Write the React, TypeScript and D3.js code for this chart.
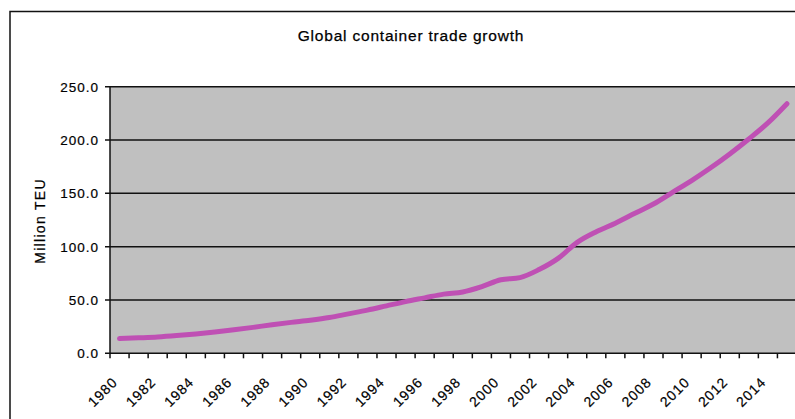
import React from "react";
import * as d3 from "d3";

const years: number[] = [
  1980, 1981, 1982, 1983, 1984, 1985, 1986, 1987, 1988, 1989,
  1990, 1991, 1992, 1993, 1994, 1995, 1996, 1997, 1998, 1999,
  2000, 2001, 2002, 2003, 2004, 2005, 2006, 2007, 2008, 2009,
  2010, 2011, 2012, 2013, 2014, 2015,
];
const teu: number[] = [
  13.8, 14.5, 15.3, 16.6, 18.2, 20, 22, 24.3, 26.8, 29,
  31, 33.5, 37, 40.5, 44.5, 48.5, 52, 55.5, 57.5, 62.5,
  69, 71, 78.5, 89, 104, 114, 122, 131, 140, 151,
  162, 174, 187, 201, 216, 234,
];
const yTicks: number[] = [0, 50, 100, 150, 200, 250];
const xLabelYears: number[] = years.filter((y) => y % 2 === 0 && y <= 2014);
const title = "Global container trade growth";
const yTitle = "Million TEU";

const W = 795;
const H = 419;
const left = 110;
const right = 796.5;
const top = 86.7;
const bottom = 353.3;
const font = "'Liberation Sans', Arial, sans-serif";

export default function App() {
  const x = d3.scaleBand<number>().domain(years).range([left, right]).padding(0);
  const y = d3.scaleLinear().domain([0, 250]).range([bottom, top]);
  const line = d3
    .line<number>()
    .x((_, i) => (x(years[i]) as number) + x.bandwidth() / 2)
    .y((d) => y(d))
    .curve(d3.curveMonotoneX);
  const boundaries = d3.range(years.length + 1).map((i) => left + i * x.step());

  return (
    <svg
      width={W}
      height={H}
      style={{ position: "absolute", left: 0, top: 0, background: "#fff" }}
    >
      <rect x={10} y={11.5} width={820} height={440} fill="#fff" stroke="#111" strokeWidth={1.5} />
      <text
        x={411}
        y={41}
        textAnchor="middle"
        fontFamily={font}
        fontSize={15.5}
        letterSpacing={0.8}
        fill="#000"
        stroke="#000"
        strokeWidth={0.25}
      >
        {title}
      </text>
      <rect x={left} y={top} width={right - left} height={bottom - top} fill="#c0c0c0" />
      {yTicks.map((t) => (
        <g key={t}>
          <line x1={left - 5} x2={right} y1={y(t)} y2={y(t)} stroke="#111" strokeWidth={1.5} />
          <text
            x={99}
            y={y(t) + 5}
            textAnchor="end"
            fontFamily={font}
            fontSize={13.5}
            letterSpacing={1}
            fill="#000"
            stroke="#000"
            strokeWidth={0.2}
          >
            {t.toFixed(1)}
          </text>
        </g>
      ))}
      <line x1={left} x2={left} y1={top} y2={bottom} stroke="#111" strokeWidth={1.5} />
      {boundaries.map((bx, i) => (
        <line key={i} x1={bx} x2={bx} y1={bottom} y2={bottom + 5} stroke="#111" strokeWidth={1.5} />
      ))}
      {xLabelYears.map((yr) => {
        const cx = (x(yr) as number) + x.bandwidth() / 2;
        const ax = cx - 1;
        const ay = 383;
        return (
          <text
            key={yr}
            x={ax}
            y={ay}
            textAnchor="end"
            transform={`rotate(-45 ${ax} ${ay})`}
            fontFamily={font}
            fontSize={14}
            letterSpacing={1}
            fill="#000"
            stroke="#000"
            strokeWidth={0.2}
          >
            {yr}
          </text>
        );
      })}
      <text
        transform={`translate(45 221) rotate(-90)`}
        textAnchor="middle"
        fontFamily={font}
        fontSize={14}
        letterSpacing={1.3}
        fill="#000"
        stroke="#000"
        strokeWidth={0.2}
      >
        {yTitle}
      </text>
      <path
        d={line(teu) || ""}
        fill="none"
        stroke="#bf50b4"
        strokeWidth={5}
        strokeLinecap="round"
        strokeLinejoin="round"
      />
    </svg>
  );
}
